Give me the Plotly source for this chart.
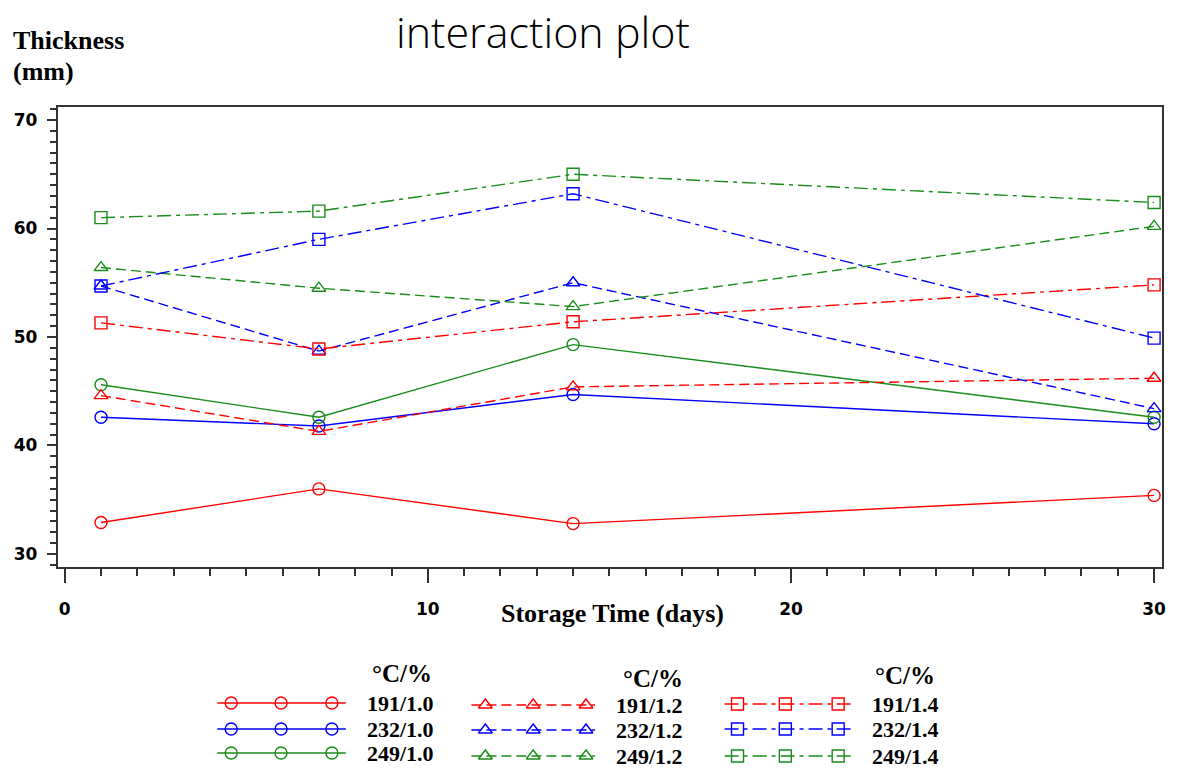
import plotly.graph_objects as go

# Storage time (days) at which thickness was measured
days = [1, 7, 14, 30]

# Thickness (mm) per temperature (°C) / level (%) combination
t191_10 = [32.9, 36.0, 32.8, 35.4]
t232_10 = [42.6, 41.8, 44.7, 42.0]
t249_10 = [45.6, 42.6, 49.3, 42.6]
t191_12 = [44.6, 41.3, 45.4, 46.2]
t232_12 = [54.7, 48.7, 55.0, 43.4]
t249_12 = [56.4, 54.5, 52.8, 60.2]
t191_14 = [51.3, 48.9, 51.4, 54.8]
t232_14 = [54.7, 59.0, 63.2, 49.9]
t249_14 = [61.0, 61.6, 65.0, 62.4]

labels_10 = ["191/1.0", "232/1.0", "249/1.0"]
labels_12 = ["191/1.2", "232/1.2", "249/1.2"]
labels_14 = ["191/1.4", "232/1.4", "249/1.4"]

x_ticks = [0, 10, 20, 30]
y_ticks = [30, 40, 50, 60, 70]

W, H = 1189, 772
RED, BLUE, GREEN = "#ff0000", "#0000ff", "#1a8c1a"
colors = [RED, BLUE, GREEN]

groups = [
    ([t191_10, t232_10, t249_10], labels_10, "circle-open", "solid"),
    ([t191_12, t232_12, t249_12], labels_12, "triangle-up-open", "10px,5px"),
    ([t191_14, t232_14, t249_14], labels_14, "square-open", "14px,5px,4px,5px"),
]

fig = go.Figure()

for series, labels, symbol, dash in groups:
    for vals, lab, col in zip(series, labels, colors):
        fig.add_trace(go.Scatter(
            x=days, y=vals, name=lab, mode="lines+markers",
            line=dict(color=col, width=1.4, dash=dash),
            marker=dict(symbol=symbol, size=12, color=col,
                        line=dict(color=col, width=1.4)),
            xaxis="x", yaxis="y", showlegend=False,
        ))

# Legend block drawn on a pixel-space axis spanning the whole figure
leg_cols = [
    dict(x0=218, x1=347, mx=[232, 282, 333], tx=366, hx=403, hy=673, rows=[703, 729, 753]),
    dict(x0=473, x1=597, mx=[487, 535, 588], tx=616, hx=655, hy=678, rows=[705, 730, 756]),
    dict(x0=727, x1=855, mx=[740, 788, 841], tx=873, hx=908, hy=675, rows=[704, 729, 756]),
]
annotations = []
lfont = dict(family="Liberation Serif", size=22, color="black", weight="bold")
for (series, labels, symbol, dash), lc in zip(groups, leg_cols):
    for lab, col, ry in zip(labels, colors, lc["rows"]):
        fig.add_trace(go.Scatter(
            x=[lc["x0"], lc["x1"]], y=[ry, ry], mode="lines",
            line=dict(color=col, width=1.4, dash=dash),
            xaxis="x2", yaxis="y2", showlegend=False, hoverinfo="skip",
        ))
        fig.add_trace(go.Scatter(
            x=lc["mx"], y=[ry] * 3, mode="markers",
            marker=dict(symbol=symbol, size=12, color=col,
                        line=dict(color=col, width=1.4)),
            xaxis="x2", yaxis="y2", showlegend=False, hoverinfo="skip",
        ))
        annotations.append(dict(x=lc["tx"], y=ry, xref="x2", yref="y2", text=lab,
                                showarrow=False, xanchor="left", yanchor="middle",
                                font=lfont))
    annotations.append(dict(x=lc["hx"], y=lc["hy"], xref="x2", yref="y2", text="°C/%",
                            showarrow=False, xanchor="center", yanchor="middle",
                            font=dict(family="Liberation Serif", size=25,
                                      color="black", weight="bold")))

# Titles
annotations.append(dict(x=545, y=31, xref="x2", yref="y2", text="interaction plot",
                        showarrow=False, xanchor="center", yanchor="middle",
                        font=dict(family="Open Sans", size=43, color="black", weight=300)))
annotations.append(dict(x=11, y=40, xref="x2", yref="y2", text="Thickness",
                        showarrow=False, xanchor="left", yanchor="middle",
                        font=dict(family="Liberation Serif", size=26, color="black", weight="bold")))
annotations.append(dict(x=11, y=71, xref="x2", yref="y2", text="(mm)",
                        showarrow=False, xanchor="left", yanchor="middle",
                        font=dict(family="Liberation Serif", size=26, color="black", weight="bold")))
annotations.append(dict(x=615, y=613, xref="x2", yref="y2", text="Storage Time (days)",
                        showarrow=False, xanchor="center", yanchor="middle",
                        font=dict(family="Liberation Serif", size=26, color="black", weight="bold")))

axis_col = "#333333"
tick_font = dict(family="DejaVu Sans", size=17, color="black", weight="bold")

fig.update_layout(
    width=W, height=H,
    margin=dict(l=0, r=0, t=0, b=0),
    paper_bgcolor="white", plot_bgcolor="rgba(0,0,0,0)",
    xaxis=dict(
        domain=[58 / W, 1166 / W], range=[-0.19, 30.22],
        tickvals=x_ticks, ticktext=[str(v) for v in x_ticks],
        ticks="outside", ticklen=14, tickwidth=2, tickcolor=axis_col,
        minor=dict(dtick=1, ticks="outside", ticklen=7, tickwidth=1.5, tickcolor=axis_col),
        showline=True, mirror=True, linecolor=axis_col, linewidth=2,
        showgrid=False, zeroline=False, tickfont=tick_font, ticklabelstandoff=12,
    ),
    yaxis=dict(
        domain=[(H - 567) / H, (H - 107) / H], range=[28.8, 71.2],
        tickvals=y_ticks, ticktext=[str(v) for v in y_ticks],
        ticks="outside", ticklen=9, tickwidth=2, tickcolor=axis_col,
        minor=dict(dtick=1, ticks="outside", ticklen=6, tickwidth=1.5, tickcolor=axis_col),
        showline=True, mirror=True, linecolor=axis_col, linewidth=2,
        showgrid=False, zeroline=False, tickfont=tick_font, ticklabelstandoff=6,
    ),
    xaxis2=dict(domain=[0, 1], range=[0, W], visible=False, anchor="y2"),
    yaxis2=dict(domain=[0, 1], range=[H, 0], visible=False, anchor="x2"),
    annotations=annotations,
)

fig.write_html("out.html")
